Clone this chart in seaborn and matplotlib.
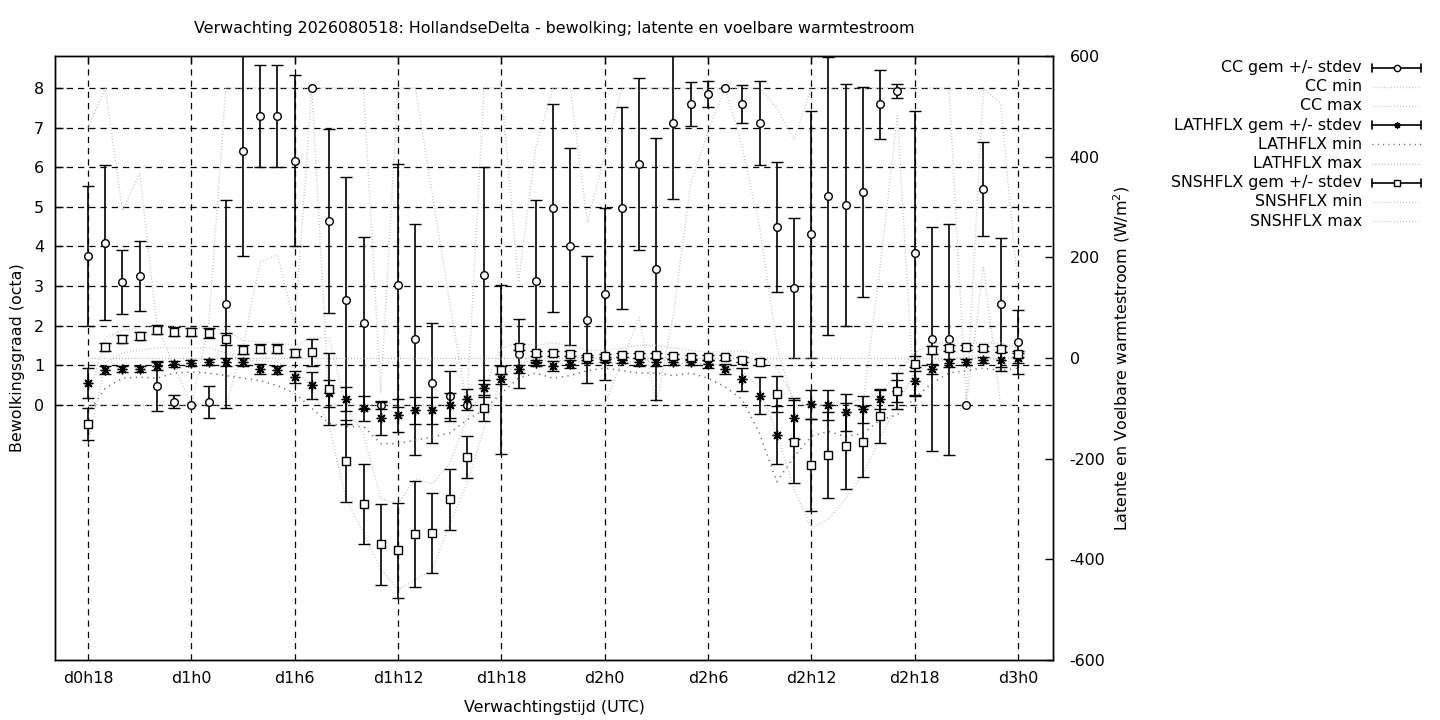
import numpy as np
import pandas as pd
import matplotlib
matplotlib.use("Agg")
import matplotlib.pyplot as plt
from matplotlib.lines import Line2D
import seaborn as sns

# uren vanaf d0h0
hours = list(range(18, 73))
tick_hours = [18, 24, 30, 36, 42, 48, 54, 60, 66, 72]
tick_labels = ['d0h18', 'd1h0', 'd1h6', 'd1h12', 'd1h18', 'd2h0', 'd2h6', 'd2h12', 'd2h18', 'd3h0']

# bewolking (octa)
cc_mean = [3.76, 4.10, 3.10, 3.25, 0.48, 0.08, 0.00, 0.08, 2.55, 6.41, 7.30, 7.30, 6.16, 8.00,
           4.64, 2.64, 2.06, 0.00, 3.02, 1.66, 0.55, 0.23, 0.00, 3.27, 0.90, 1.29, 3.13, 4.97,
           4.00, 2.15, 2.80, 4.97, 6.08, 3.43, 7.11, 7.59, 7.84, 8.00, 7.59, 7.11, 4.49, 2.95,
           4.31, 5.27, 5.04, 5.37, 7.59, 7.92, 3.83, 1.66, 1.66, 0.00, 5.45, 2.54, 1.58]
cc_std = [1.76, 1.95, 0.80, 0.88, 0.63, 0.16, 0.00, 0.40, 2.63, 2.66, 1.29, 1.29, 2.16, 0.00,
          2.32, 3.11, 2.17, 0.10, 3.06, 2.91, 1.51, 0.64, 0.00, 2.73, 2.13, 0.87, 2.05, 2.62,
          2.48, 1.60, 2.17, 2.54, 2.16, 3.30, 1.92, 0.56, 0.33, 0.00, 0.48, 1.06, 1.65, 1.76,
          3.12, 3.51, 3.05, 2.65, 0.87, 0.17, 3.60, 2.83, 2.91, 0.00, 1.19, 1.68, 0.81]
cc_min = [0, 0, 0, 0, 0, 0, 0, 0, 0, 1.5, 3.6, 3.8, 2.0, 8.0,
          0, 0, 0, 0, 0, 0, 0, 0, 0, 0, 0, 0, 0, 0,
          0, 0, 0, 1.1, 2.2, 0, 2.3, 5.6, 6.9, 8.0, 6.5, 4.5, 1.5, 0,
          0, 0, 0, 0, 3.5, 7.3, 0, 0, 0, 0, 3.5, 0, 0]
cc_max = [7.0, 8.0, 4.9, 5.85, 2.0, 1.0, 0.0, 2.0, 8.0, 8.0, 8.0, 8.0, 8.0, 8.0,
          8.0, 8.0, 8.0, 0.3, 8.0, 8.0, 5.3, 2.6, 0.0, 8.0, 8.0, 3.1, 6.5, 8.0,
          8.0, 4.6, 6.3, 8.0, 8.0, 8.0, 8.0, 8.0, 8.0, 8.0, 8.0, 8.0, 7.5, 6.7,
          8.0, 8.0, 8.0, 8.0, 8.0, 8.0, 8.0, 8.0, 8.0, 0.0, 8.0, 7.6, 3.0]

# latente warmtestroom (W/m2)
lat_mean = [-50, -24, -22, -22, -16, -12, -9, -8, -8, -8, -22, -24, -38, -54,
            -70, -82, -100, -120, -114, -104, -104, -94, -82, -60, -42, -22, -10, -15,
            -12, -4, -3, -4, -8, -8, -8, -8, -12, -22, -42, -75, -153, -120,
            -92, -94, -108, -102, -82, -65, -46, -21, -10, -7, -4, -3, 0]
lat_std = [30, 8, 6, 6, 8, 6, 6, 6, 8, 8, 10, 8, 12, 27,
           27, 24, 25, 32, 33, 27, 27, 25, 21, 17, 10, 8, 6, 10,
           8, 5, 5, 5, 8, 8, 6, 6, 8, 10, 23, 37, 57, 41,
           29, 30, 37, 27, 20, 22, 28, 10, 8, 6, 6, 15, 10]
lat_min = [-110, -60, -40, -38, -40, -30, -28, -30, -35, -40, -45, -55, -70, -100,
           -130, -136, -136, -170, -170, -163, -157, -149, -123, -103, -70, -40, -30, -40,
           -35, -25, -20, -25, -30, -30, -35, -30, -40, -57, -83, -150, -246, -196,
           -156, -146, -156, -150, -123, -113, -80, -50, -30, -25, -20, -25, -20]
lat_max = [0, 0, 0, 0, 0, 0, 0, 0, 0, 0, 0, 0, 0, 0,
           0, 0, 0, 0, 0, 0, 0, 0, 0, 0, 0, 0, 0, 0,
           0, 0, 0, 0, 0, 0, 0, 0, 0, 0, 0, 0, 0, 0,
           0, 0, 0, 0, 0, 0, 0, 0, 0, 0, 0, 0, 0]

# voelbare warmtestroom (W/m2)
sns_mean = [-131, 22, 38, 44, 56, 52, 52, 49, 37, 16, 18, 18, 9, 11,
            -62, -205, -290, -370, -382, -350, -348, -281, -197, -100, -24, 21, 9, 9,
            8, 1, 3, 5, 5, 5, 3, 1, 1, 1, -3, -8, -72, -166,
            -213, -193, -175, -166, -116, -66, -11, 16, 19, 21, 19, 18, 7]
sns_std = [31, 8, 8, 8, 9, 9, 8, 10, 12, 9, 9, 9, 8, 26,
           71, 81, 79, 80, 94, 105, 79, 61, 42, 26, 8, 6, 5, 5,
           5, 4, 4, 4, 5, 5, 4, 4, 4, 4, 5, 6, 36, 82,
           91, 85, 85, 71, 52, 36, 15, 8, 6, 5, 5, 6, 6]
sns_min = [-170, -10, 10, 15, 20, 20, 20, 20, 10, -5, -5, -10, -20, -60,
           -136, -282, -348, -420, -460, -441, -420, -330, -250, -140, -40, -10, -5, -5,
           -5, -10, -10, -10, -5, -5, -10, -10, -10, -15, -25, -60, -150, -260,
           -338, -320, -280, -230, -160, -90, -30, -10, 0, 0, 0, -5, -10]
sns_max = [-80, 40, 55, 60, 65, 62, 60, 60, 55, 35, 32, 30, 25, 40,
           40, -100, -150, -280, -290, -240, -250, -210, -120, -60, 20, 30, 25, 30,
           25, 15, 15, 20, 25, 25, 20, 15, 12, 12, 15, 5, -20, -80,
           -100, -90, -90, -80, -70, -30, 10, 30, 30, 30, 30, 30, 20]

df = pd.DataFrame({'uur': hours,
                   'cc_min': cc_min, 'cc_max': cc_max,
                   'lat_min': lat_min, 'lat_max': lat_max,
                   'sns_min': sns_min, 'sns_max': sns_max})

sns.set_style("white")
plt.rcParams['font.family'] = ['DejaVu Sans']
plt.rcParams['font.size'] = 11.4
plt.rcParams['axes.unicode_minus'] = False
for key in ('text.color', 'axes.labelcolor', 'xtick.color', 'ytick.color'):
    plt.rcParams[key] = 'black'

W, H = 1440, 720
fig = plt.figure(figsize=(14.4, 7.2), dpi=100)
ax = fig.add_axes([55 / W, 1 - 660 / H, 998 / W, 604 / H])
ax2 = ax.twinx()

light = '#bdbdbd'
mid = '#a8a8a8'
dark = '#6a6a6a'
fine_dots = (0, (0.6, 1.6))
wide_dots = (0, (0.8, 3.0))

# min/max lijnen
sns.lineplot(data=df, x='uur', y='cc_min', ax=ax, color=light, lw=1, linestyle=fine_dots)
sns.lineplot(data=df, x='uur', y='cc_max', ax=ax, color=light, lw=1, linestyle=fine_dots)
sns.lineplot(data=df, x='uur', y='lat_min', ax=ax2, color=dark, lw=1.1, linestyle=wide_dots)
sns.lineplot(data=df, x='uur', y='lat_max', ax=ax2, color=mid, lw=1, linestyle=fine_dots)
sns.lineplot(data=df, x='uur', y='sns_min', ax=ax2, color=light, lw=1, linestyle=fine_dots)
sns.lineplot(data=df, x='uur', y='sns_max', ax=ax2, color=light, lw=1, linestyle=fine_dots)


def nozero(s):
    s = np.array(s, dtype=float)
    s[s == 0] = np.nan
    return s


err_kw = dict(color='black', ecolor='black', elinewidth=1.2, capsize=4, capthick=1.2,
              mec='black', mew=1.0, ls='none', zorder=5)
ax.errorbar(hours, cc_mean, yerr=nozero(cc_std), marker='o', ms=5.5, mfc='white', **err_kw)
ax2.errorbar(hours, lat_mean, yerr=nozero(lat_std), marker=(8, 2, 0), ms=7, **err_kw)
ax2.errorbar(hours, sns_mean, yerr=nozero(sns_std), marker='s', ms=6, mfc='white', **err_kw)

# assen
ax.set_xlim(16.08, 74.04)
ax.set_ylim(-6.435, 8.807)
ax2.set_ylim(-600, 600)
ax.set_xticks(tick_hours)
ax.set_xticklabels(tick_labels)
ax.set_yticks(range(0, 9))
ax2.set_yticks(range(-600, 601, 200))
ax.grid(True, color='black', lw=0.9, linestyle=(0, (5, 4)))
ax2.grid(False)
ax.tick_params(direction='in', length=6, width=1, pad=8, labelsize=11.4, top=True)
ax2.tick_params(direction='in', length=6, width=1, pad=12, labelsize=11.4)
for a in (ax, ax2):
    for sp in a.spines.values():
        sp.set_color('black')
        sp.set_linewidth(1)

ax.set_xlabel('Verwachtingstijd (UTC)', labelpad=10)
ax.set_ylabel('Bewolkingsgraad (octa)', labelpad=6)
ax2.set_ylabel('Latente en Voelbare warmtestroom (W/m$^2$)', labelpad=4)

fig.text(554 / W, 1 - 29 / H,
         'Verwachting 2026080518: HollandseDelta - bewolking; latente en voelbare warmtestroom',
         ha='center', va='center', fontsize=11.4)

# legenda
entries = [('CC gem +/- stdev', 'o'), ('CC min', 'light'), ('CC max', 'light'),
           ('LATHFLX gem +/- stdev', (8, 2, 0)), ('LATHFLX min', 'dark'), ('LATHFLX max', 'mid'),
           ('SNSHFLX gem +/- stdev', 's'), ('SNSHFLX min', 'light'), ('SNSHFLX max', 'light')]
x_text, x0, x1 = 1362 / W, 1372 / W, 1421 / W
for i, (label, kind) in enumerate(entries):
    y = 1 - (67.5 + 19.2 * i) / H
    fig.text(x_text, y, label, ha='right', va='center', fontsize=11.4)
    if kind in ('light', 'mid', 'dark'):
        col = {'light': light, 'mid': mid, 'dark': dark}[kind]
        ls = wide_dots if kind == 'dark' else fine_dots
        fig.add_artist(Line2D([x0, x1], [y, y], transform=fig.transFigure, color=col, lw=1, ls=ls))
    else:
        fig.add_artist(Line2D([x0, x1], [y, y], transform=fig.transFigure, color='black', lw=1.2))
        for xc in (x0, x1):
            fig.add_artist(Line2D([xc, xc], [y - 4 / H, y + 4 / H], transform=fig.transFigure,
                                  color='black', lw=1.2))
        fig.add_artist(Line2D([(x0 + x1) / 2], [y], transform=fig.transFigure, marker=kind,
                              ms=4.5, mfc='white', mec='black', color='black', mew=1.0))

fig.savefig('out.png', dpi=100)
